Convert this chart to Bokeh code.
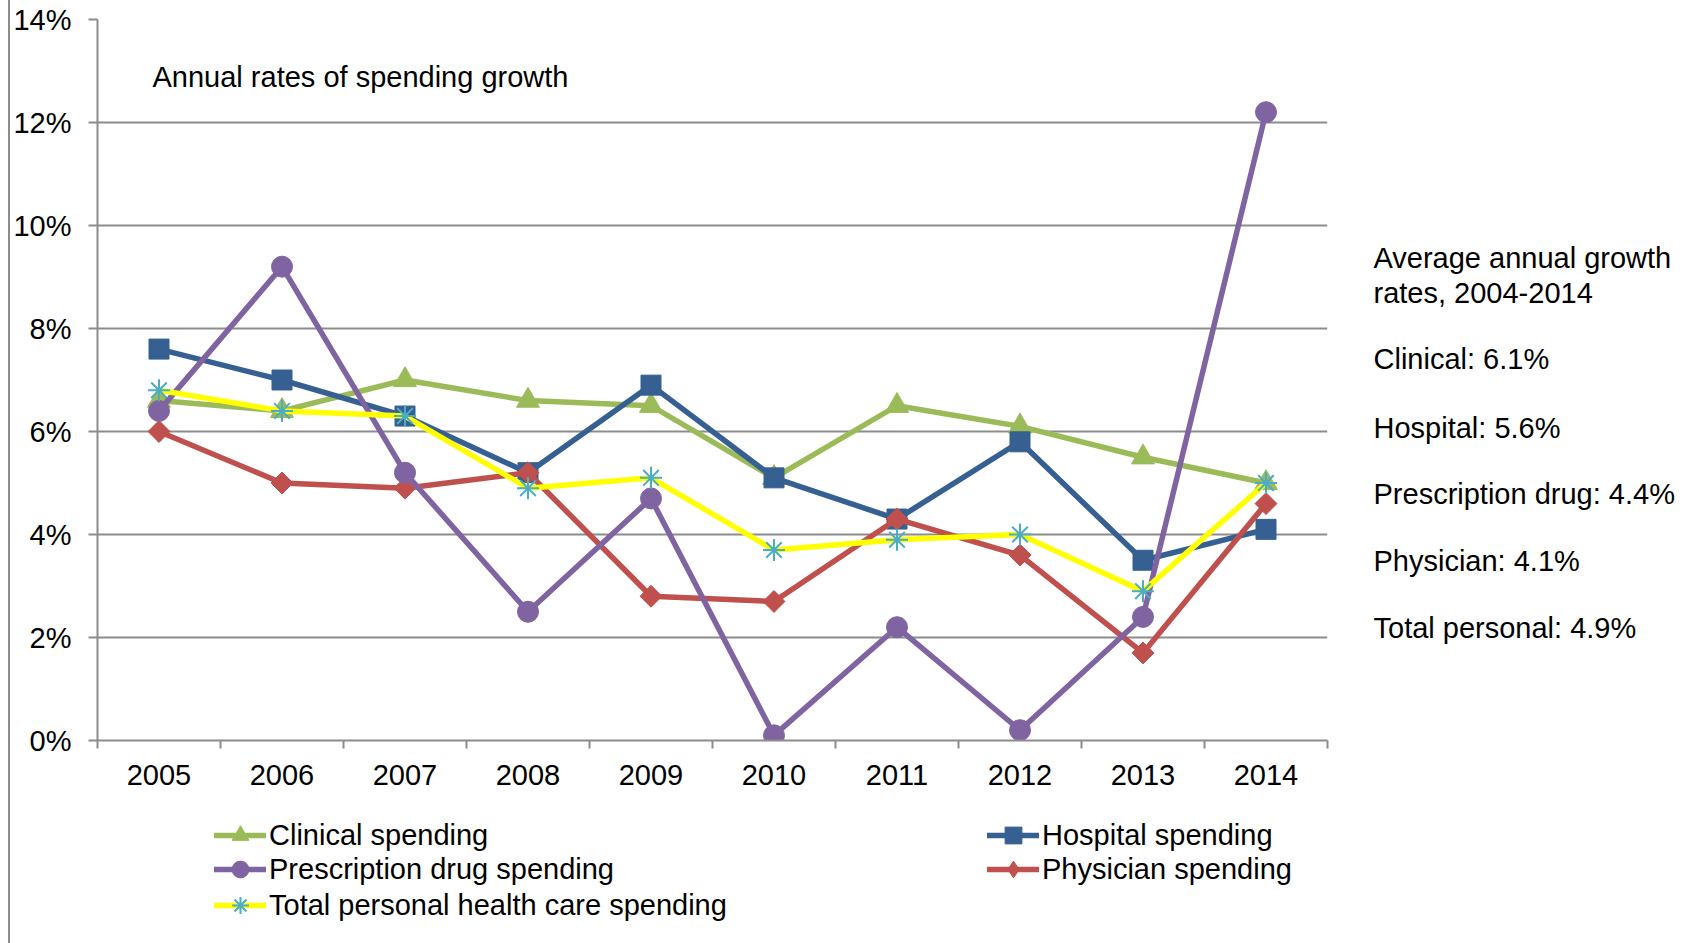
import math
from bokeh.plotting import figure
from bokeh.models import (Range1d, FixedTicker, CustomJSTickFormatter, PrintfTickFormatter,
                          Legend, LegendItem, Label, Div)
from bokeh.layouts import row, column
from bokeh.embed import file_html
from bokeh.resources import INLINE

years = ["2005", "2006", "2007", "2008", "2009", "2010", "2011", "2012", "2013", "2014"]
clinical = [6.6, 6.4, 7.0, 6.6, 6.5, 5.1, 6.5, 6.1, 5.5, 5.0]
hospital = [7.6, 7.0, 6.3, 5.2, 6.9, 5.1, 4.3, 5.8, 3.5, 4.1]
prescription = [6.4, 9.2, 5.2, 2.5, 4.7, 0.1, 2.2, 0.2, 2.4, 12.2]
physician = [6.0, 5.0, 4.9, 5.2, 2.8, 2.7, 4.3, 3.6, 1.7, 4.6]
total = [6.8, 6.4, 6.3, 4.9, 5.1, 3.7, 3.9, 4.0, 2.9, 5.0]
y_ticks = [0, 2, 4, 6, 8, 10, 12, 14]

title_text = "Annual rates of spending growth"
side_lines = ["Average annual growth", "rates, 2004-2014", "Clinical: 6.1%", "Hospital: 5.6%",
              "Prescription drug: 4.4%", "Physician: 4.1%", "Total personal: 4.9%"]

FONT = "Liberation Sans"
FS = "29px"
GRID = "#8c8c8c"

x = [i + 0.5 for i in range(len(years))]

# ---------------- main chart ----------------
MAIN_W, MAIN_H = 1325, 805
p = figure(width=MAIN_W, height=MAIN_H, output_backend="svg", toolbar_location=None,
           x_range=Range1d(0, len(years)), y_range=Range1d(0, 14),
           min_border_left=87, min_border_right=8, min_border_top=19, min_border_bottom=65)
p.outline_line_color = None

p.xaxis.ticker = FixedTicker(ticks=x, minor_ticks=list(range(len(years) + 1)))
p.xaxis.formatter = CustomJSTickFormatter(args=dict(labels=years),
                                          code="return labels[Math.round(tick - 0.5)];")
p.xaxis.major_tick_line_color = None
p.xaxis.minor_tick_in = 0
p.xaxis.minor_tick_out = 8
p.xaxis.minor_tick_line_color = GRID
p.xaxis.minor_tick_line_width = 2
p.xaxis.axis_line_color = GRID
p.xaxis.axis_line_width = 2
p.xaxis.major_label_standoff = 16
p.xaxis.major_label_text_font = FONT
p.xaxis.major_label_text_font_size = FS
p.xaxis.major_label_text_color = "black"

p.yaxis.ticker = FixedTicker(ticks=y_ticks, minor_ticks=[])
p.yaxis.formatter = PrintfTickFormatter(format="%d%%")
p.yaxis.major_tick_in = 0
p.yaxis.major_tick_out = 9
p.yaxis.major_tick_line_color = GRID
p.yaxis.major_tick_line_width = 2
p.yaxis.minor_tick_line_color = None
p.yaxis.axis_line_color = GRID
p.yaxis.axis_line_width = 2
p.yaxis.major_label_standoff = 17
p.yaxis.major_label_text_font = FONT
p.yaxis.major_label_text_font_size = FS
p.yaxis.major_label_text_color = "black"

p.xgrid.grid_line_color = None
p.ygrid.grid_line_color = GRID
p.ygrid.grid_line_width = 2

LW = 5.5
# name, values, line colour, marker, size, angle, marker colour, marker line width, legend marker
series = [
    ("Clinical spending", clinical, "#9bbb59", "triangle", 23, 0, "#9bbb59", 1, "triangle"),
    ("Hospital spending", hospital, "#366092", "square", 20, 0, "#366092", 1, "square"),
    ("Physician spending", physician, "#c0504d", "square", 15.5, math.pi / 4, "#c0504d", 1, "diamond"),
    ("Prescription drug spending", prescription, "#8064a2", "circle", 21, 0, "#8064a2", 1, "circle"),
    ("Total personal health care spending", total, "#ffff00", "asterisk", 22, 0, "#4bacc6", 2, "asterisk"),
]


def draw(fig, xs, vals, col, marker, size, ang, mcol, mlw):
    r1 = fig.line(xs, vals, line_color=col, line_width=LW, line_join="round", line_cap="round")
    if marker == "asterisk":
        r2 = fig.scatter(xs, vals, marker=marker, size=size, line_color=mcol, line_width=mlw)
    else:
        r2 = fig.scatter(xs, vals, marker=marker, size=size, angle=ang,
                         fill_color=mcol, line_color=mcol, line_width=mlw)
    return r1, r2


for name, vals, col, marker, size, ang, mcol, mlw, lm in series:
    draw(p, x, vals, col, marker, size, ang, mcol, mlw)

p.add_layout(Label(x=55, y=664, x_units="screen", y_units="screen", text=title_text,
                   text_font=FONT, text_font_size=FS, text_color="black",
                   text_baseline="middle"))

# ---------------- side text (frame aligns with main frame: y 19..740) ----------------
SIDE_W = 1689 - 1335
side = figure(width=SIDE_W, height=MAIN_H, output_backend="svg", toolbar_location=None,
              x_range=Range1d(0, SIDE_W), y_range=Range1d(740, 19),
              min_border=0, x_axis_type=None, y_axis_type=None)
side.outline_line_color = None
side.grid.visible = False
side_y = [257, 292, 358, 427, 493, 560, 627]
for t, yy in zip(side_lines, side_y):
    side.add_layout(Label(x=38, y=yy, text=t, text_font=FONT, text_font_size=FS,
                          text_color="black", text_baseline="middle"))

# ---------------- legend ----------------
LEG_W, LEG_H = 1689 - 10, 135
leg = figure(width=LEG_W, height=LEG_H, output_backend="svg", toolbar_location=None,
             x_range=Range1d(-100, -99), y_range=Range1d(-100, -99),
             min_border=0, x_axis_type=None, y_axis_type=None)
leg.outline_line_color = None
leg.grid.visible = False
items = {}
for name, vals, col, marker, size, ang, mcol, mlw, lm in series:
    r1, r2 = draw(leg, x, vals, col, lm, size, 0, mcol, mlw)
    items[name] = LegendItem(label=name, renderers=[r1, r2])

# one single-item legend per entry, placed in two columns
legend_pos = {
    "Clinical spending": (204, 84),
    "Prescription drug spending": (204, 50),
    "Total personal health care spending": (204, 14),
    "Hospital spending": (977, 84),
    "Physician spending": (977, 50),
}
for name, loc in legend_pos.items():
    lg = Legend(items=[items[name]], location=loc, orientation="vertical",
                background_fill_alpha=0, border_line_color=None,
                label_text_font=FONT, label_text_font_size=FS, label_text_color="black",
                glyph_width=52, glyph_height=42, label_height=34, spacing=0, padding=0,
                margin=0, label_standoff=3)
    leg.add_layout(lg, "center")

# ---------------- layout ----------------
border = Div(width=2, height=943, margin=(0, 0, 0, 8), styles={"background-color": GRID})
layout = row(border, column(row(p, side), leg))

open("out.html", "w").write(file_html(layout, INLINE))
